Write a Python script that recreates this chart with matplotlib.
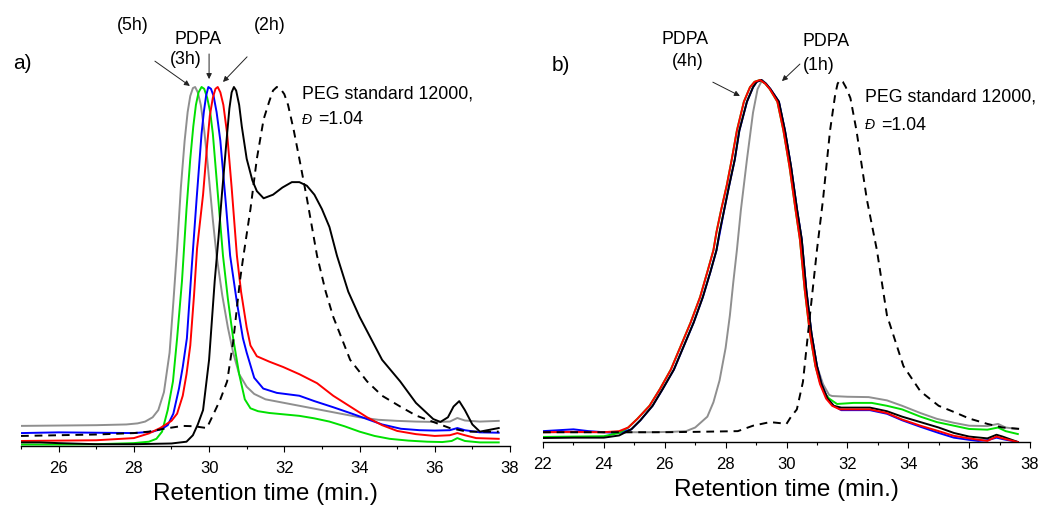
import matplotlib
matplotlib.use("Agg")
import matplotlib.pyplot as plt
from matplotlib.ticker import MultipleLocator

plt.rcParams['font.family'] = ['Liberation Sans', 'DejaVu Sans']

# ---------------- panel a) : PDPA at 5h / 4h / 3h / 2h / 1h + PEG standard
a_gray_x = [25.0, 26.0, 27.0, 27.8, 28.1, 28.3, 28.5, 28.65, 28.8, 28.95, 29.05, 29.15, 29.25, 29.35,
            29.43, 29.5, 29.57, 29.63, 29.7, 29.78, 29.87, 29.95, 30.1, 30.2, 30.35, 30.5, 30.64,
            30.8, 31.0, 31.2, 31.5, 32.0, 32.5, 33.0, 33.5, 34.0, 34.5, 35.0, 35.5, 36.0, 36.4,
            36.6, 36.8, 37.2, 37.7]
a_gray_y = [0.056, 0.057, 0.058, 0.06, 0.063, 0.068, 0.08, 0.1, 0.15, 0.26, 0.4, 0.55, 0.72, 0.85,
            0.93, 0.975, 0.997, 1.0, 0.985, 0.95, 0.88, 0.8, 0.63, 0.53, 0.42, 0.33, 0.26,
            0.2, 0.165, 0.145, 0.13, 0.12, 0.11, 0.1, 0.09, 0.08, 0.073, 0.07, 0.068, 0.067, 0.068,
            0.078, 0.071, 0.068, 0.07]

a_green_x = [25.0, 26.0, 27.0, 28.0, 28.4, 28.6, 28.75, 28.9, 29.04, 29.15, 29.28, 29.4, 29.5, 29.58,
             29.65, 29.72, 29.8, 29.87, 29.95, 30.03, 30.1, 30.25, 30.37, 30.5, 30.64, 30.8, 30.95,
             31.1, 31.3, 31.6, 32.0, 32.4, 32.8, 33.2, 33.6, 34.0, 34.4, 34.8, 35.3, 35.8, 36.2,
             36.45, 36.6, 36.8, 37.2, 37.7]
a_green_y = [0.004, 0.004, 0.005, 0.008, 0.012, 0.02, 0.04, 0.1, 0.18, 0.3, 0.46, 0.66, 0.8, 0.89,
             0.95, 0.985, 1.0, 0.995, 0.97, 0.93, 0.87, 0.68, 0.53, 0.41, 0.3, 0.2, 0.13,
             0.105, 0.097, 0.092, 0.088, 0.084, 0.077, 0.068, 0.055, 0.04, 0.028, 0.02, 0.015, 0.012, 0.011,
             0.014, 0.022, 0.014, 0.01, 0.01]

a_blue_x = [25.0, 26.0, 27.0, 28.0, 28.5, 28.75, 28.9, 29.05, 29.2, 29.3, 29.41, 29.54, 29.67, 29.8,
            29.86, 29.92, 29.98, 30.05, 30.12, 30.2, 30.3, 30.45, 30.56, 30.74, 30.9, 31.0, 31.2,
            31.44, 31.8, 32.4, 32.8, 33.3, 33.8, 34.2, 34.6, 35.1, 35.6, 36.0, 36.4, 36.6, 36.8,
            37.2, 37.7]
a_blue_y = [0.036, 0.038, 0.037, 0.036, 0.04, 0.048, 0.058, 0.09, 0.16, 0.22, 0.3, 0.5, 0.69, 0.87,
            0.93, 0.975, 1.0, 0.995, 0.975, 0.93, 0.85, 0.67, 0.53, 0.4, 0.3, 0.26, 0.19,
            0.16, 0.148, 0.14, 0.125, 0.108, 0.09, 0.075, 0.06, 0.048, 0.044, 0.043, 0.044, 0.05, 0.044,
            0.038, 0.037]

a_red_x = [25.0, 26.0, 27.0, 28.0, 28.4, 28.7, 29.0, 29.15, 29.3, 29.4, 29.5, 29.6, 29.68, 29.84,
           29.95, 30.02, 30.1, 30.17, 30.23, 30.3, 30.38, 30.48, 30.6, 30.74, 30.85, 31.0, 31.1,
           31.27, 31.6, 31.97, 32.4, 32.87, 33.3, 33.75, 34.2, 34.6, 35.0, 35.5, 36.0, 36.4, 36.6,
           36.8, 37.1, 37.7]
a_red_y = [0.014, 0.015, 0.016, 0.022, 0.035, 0.05, 0.07, 0.09, 0.14, 0.2, 0.28, 0.42, 0.55, 0.7,
           0.84, 0.92, 0.97, 0.995, 1.0, 0.985, 0.95, 0.87, 0.72, 0.53, 0.43, 0.33, 0.28,
           0.25, 0.235, 0.22, 0.2, 0.175, 0.14, 0.11, 0.08, 0.058, 0.042, 0.033, 0.028, 0.03, 0.036,
           0.03, 0.022, 0.02]

a_black_x = [25.0, 25.5, 26.0, 27.0, 28.0, 29.0, 29.4, 29.57, 29.7, 29.84, 30.0, 30.15, 30.25, 30.34,
             30.48, 30.54, 30.6, 30.66, 30.72, 30.8, 30.87, 31.0, 31.15, 31.27, 31.45, 31.7, 31.95,
             32.2, 32.4, 32.6, 32.8, 33.0, 33.2, 33.4, 33.7, 34.0, 34.2, 34.6, 35.08, 35.5, 35.96,
             36.15, 36.35, 36.5, 36.65, 36.8, 37.0, 37.2, 37.45, 37.7]
a_black_y = [0.01, 0.01, 0.008, 0.005, 0.005, 0.007, 0.012, 0.03, 0.06, 0.1, 0.24, 0.46, 0.58, 0.7,
             0.87, 0.94, 0.985, 1.0, 0.99, 0.95, 0.89, 0.8, 0.74, 0.71, 0.69, 0.7, 0.72,
             0.735, 0.735, 0.725, 0.7, 0.66, 0.61, 0.53, 0.43, 0.36, 0.32, 0.24, 0.18, 0.12, 0.075,
             0.067, 0.08, 0.11, 0.125, 0.1, 0.06, 0.04, 0.045, 0.05]

a_peg_x = [25.0, 26.0, 27.0, 28.0, 28.4, 28.8, 29.3, 29.6, 29.94, 30.1, 30.3, 30.48, 30.64, 30.82,
           30.9, 31.1, 31.27, 31.45, 31.6, 31.7, 31.8, 31.9, 32.0, 32.1, 32.25, 32.4, 32.6, 32.87,
           33.1, 33.3, 33.75, 34.2, 34.6, 35.08, 35.5, 35.96, 36.4, 36.86, 37.7]
a_peg_y = [0.028, 0.03, 0.032, 0.036, 0.04, 0.048, 0.056, 0.055, 0.05, 0.085, 0.13, 0.18, 0.29, 0.46,
           0.52, 0.66, 0.8, 0.91, 0.96, 0.99, 1.0, 0.995, 0.98, 0.95, 0.88, 0.8, 0.69, 0.53,
           0.43, 0.36, 0.24, 0.18, 0.14, 0.11, 0.085, 0.067, 0.05, 0.04, 0.04]

# ---------------- panel b)
b_red_x = [22.0, 23.0, 24.0, 24.5, 24.8, 25.1, 25.5, 25.84, 26.2, 26.5, 26.85, 27.16, 27.4, 27.6,
           27.7, 27.85, 28.04, 28.2, 28.37, 28.6, 28.8, 28.95, 29.13, 29.3, 29.45, 29.7, 29.9,
           30.1, 30.3, 30.44, 30.6, 30.77, 30.95, 31.1, 31.3, 31.5, 31.76, 32.2, 32.74, 33.3, 33.8,
           34.4, 35.0, 35.5, 36.0, 36.6, 36.9, 37.1, 37.6]
b_red_y = [0.027, 0.028, 0.027, 0.03, 0.04, 0.064, 0.1, 0.146, 0.2, 0.26, 0.33, 0.4, 0.47, 0.53,
           0.58, 0.64, 0.71, 0.78, 0.86, 0.94, 0.98, 0.995, 1.0, 0.99, 0.975, 0.94, 0.86,
           0.76, 0.64, 0.56, 0.42, 0.3, 0.21, 0.16, 0.12, 0.1, 0.09, 0.09, 0.09, 0.08, 0.062,
           0.045, 0.03, 0.017, 0.01, 0.003, 0.015, 0.01, 0.0]

b_black_x = [22.0, 23.0, 24.0, 24.5, 24.9, 25.2, 25.6, 25.93, 26.3, 26.6, 26.95, 27.25, 27.5, 27.7,
             27.8, 27.95, 28.12, 28.3, 28.45, 28.7, 28.9, 29.02, 29.17, 29.32, 29.47, 29.75, 29.95,
             30.15, 30.35, 30.5, 30.65, 30.82, 31.0, 31.15, 31.35, 31.55, 31.8, 32.2, 32.74, 33.3,
             33.8, 34.4, 35.0, 35.5, 36.0, 36.6, 36.9, 37.1, 37.6]
b_black_y = [0.011, 0.012, 0.012, 0.018, 0.035, 0.06, 0.1, 0.146, 0.2, 0.26, 0.33, 0.4, 0.47, 0.53,
             0.58, 0.64, 0.71, 0.78, 0.86, 0.94, 0.98, 0.995, 1.0, 0.99, 0.975, 0.94, 0.86,
             0.76, 0.64, 0.56, 0.42, 0.3, 0.21, 0.16, 0.12, 0.1, 0.095, 0.095, 0.095, 0.085,
             0.07, 0.055, 0.04, 0.025, 0.015, 0.01, 0.02, 0.015, 0.0]

b_blue_x = [22.0, 23.0, 23.5, 24.0, 24.5, 24.9, 25.2, 25.6, 25.93, 26.3, 26.6, 26.95, 27.25, 27.5,
            27.7, 27.95, 28.12, 28.3, 28.45, 28.7, 28.9, 29.02, 29.17, 29.32, 29.47, 29.75, 29.95,
            30.15, 30.35, 30.5, 30.65, 30.82, 31.0, 31.15, 31.35, 31.55, 31.8, 32.2, 32.74, 33.3,
            33.8, 34.4, 35.0, 35.5, 36.0, 36.3, 36.6, 36.9, 37.1, 37.6]
b_blue_y = [0.03, 0.035, 0.03, 0.027, 0.025, 0.035, 0.06, 0.1, 0.146, 0.2, 0.26, 0.33, 0.4, 0.47,
            0.53, 0.64, 0.71, 0.78, 0.86, 0.94, 0.98, 0.995, 1.0, 0.99, 0.975, 0.94, 0.86,
            0.76, 0.64, 0.56, 0.42, 0.3, 0.21, 0.16, 0.12, 0.1, 0.088, 0.088, 0.088, 0.078,
            0.06, 0.042, 0.025, 0.012, 0.006, 0.003, 0.005, 0.012, 0.008, 0.0]

b_green_x = [22.0, 23.0, 24.0, 24.5, 24.8, 25.1, 25.5, 25.84, 26.2, 26.5, 26.85, 27.16, 27.4, 27.6,
             27.7, 27.85, 28.04, 28.2, 28.37, 28.6, 28.8, 28.95, 29.13, 29.3, 29.45, 29.7, 29.9,
             30.1, 30.3, 30.44, 30.6, 30.77, 30.95, 31.1, 31.25, 31.4, 31.66, 32.2, 32.8, 33.3,
             33.8, 34.4, 34.94, 35.5, 36.0, 36.6, 36.95, 37.2, 37.6]
b_green_y = [0.014, 0.015, 0.016, 0.025, 0.04, 0.064, 0.1, 0.146, 0.2, 0.26, 0.33, 0.4, 0.47, 0.53,
             0.58, 0.64, 0.71, 0.78, 0.86, 0.94, 0.98, 0.995, 1.0, 0.99, 0.975, 0.94, 0.86,
             0.76, 0.64, 0.56, 0.42, 0.3, 0.21, 0.165, 0.135, 0.12, 0.105, 0.108, 0.108, 0.1,
             0.09, 0.07, 0.055, 0.045, 0.036, 0.034, 0.04, 0.03, 0.022]

b_gray_x = [22.0, 24.5, 25.5, 26.2, 26.7, 27.0, 27.2, 27.4, 27.6, 27.8, 28.0, 28.14, 28.25, 28.37,
            28.5, 28.7, 28.9, 29.05, 29.2, 29.33, 29.47, 29.75, 29.95, 30.15, 30.35, 30.5, 30.65,
            30.82, 31.0, 31.2, 31.4, 31.5, 32.0, 32.7, 33.3, 33.8, 34.4, 34.94, 35.5, 36.0, 36.6,
            36.95, 37.2, 37.6]
b_gray_y = [0.027, 0.027, 0.027, 0.028, 0.03, 0.04, 0.055, 0.07, 0.11, 0.17, 0.26, 0.35, 0.44, 0.53,
            0.64, 0.78, 0.91, 0.975, 1.0, 0.99, 0.975, 0.94, 0.86, 0.76, 0.64, 0.56, 0.42,
            0.3, 0.21, 0.16, 0.13, 0.127, 0.125, 0.124, 0.115, 0.1, 0.08, 0.064, 0.053, 0.045, 0.044,
            0.05, 0.04, 0.036]

b_peg_x = [22.0, 23.0, 24.5, 26.0, 27.0, 28.4, 28.9, 29.46, 29.8, 30.0, 30.15, 30.34, 30.54, 30.77,
           31.0, 31.2, 31.43, 31.6, 31.68, 31.76, 31.85, 31.95, 32.1, 32.3, 32.64, 32.97, 33.3,
           33.84, 34.4, 35.0, 35.5, 36.0, 36.6, 37.1, 37.7]
b_peg_y = [0.027, 0.027, 0.027, 0.027, 0.028, 0.03, 0.045, 0.055, 0.052, 0.05, 0.07, 0.09, 0.166, 0.35,
           0.53, 0.67, 0.86, 0.96, 0.99, 1.0, 0.995, 0.98, 0.95, 0.86, 0.67, 0.53, 0.35,
           0.21, 0.14, 0.1, 0.083, 0.065, 0.05, 0.04, 0.036]

GRAY, GREEN, BLUE, RED, BLACK = '#8f8f8f', '#00e000', '#0000ff', '#ff0000', '#000000'
LW = 1.4
FS_TXT = 12.8

fig = plt.figure(figsize=(10.45, 5.1), dpi=100)
ax_a = fig.add_axes([21 / 1045, 1 - 447 / 510, (510 - 21) / 1045, 1.16 * 359 / 510])
ax_b = fig.add_axes([543 / 1045, 1 - 443 / 510, (1030 - 543) / 1045, 1.16 * 362 / 510])


def style_axis(ax, xmin, xmax):
    ax.set_xlim(xmin, xmax)
    ax.set_ylim(0, 1.16)
    for s in ['left', 'right', 'top']:
        ax.spines[s].set_visible(False)
    ax.spines['bottom'].set_linewidth(1.0)
    ax.set_yticks([])
    ax.xaxis.set_major_locator(MultipleLocator(2))
    ax.xaxis.set_minor_locator(MultipleLocator(1))
    ax.tick_params(axis='x', which='major', direction='out', length=4, width=0.8,
                   labelsize=12, pad=6)
    ax.tick_params(axis='x', which='minor', direction='out', length=2.5, width=0.8)
    ax.set_xlabel('Retention time (min.)', fontsize=17.5, labelpad=5)
    ax.patch.set_alpha(0)


# panel a
ax_a.plot(a_gray_x, a_gray_y, color=GRAY, lw=LW)
ax_a.plot(a_green_x, a_green_y, color=GREEN, lw=LW)
ax_a.plot(a_blue_x, a_blue_y, color=BLUE, lw=LW)
ax_a.plot(a_red_x, a_red_y, color=RED, lw=LW)
ax_a.plot(a_black_x, a_black_y, color=BLACK, lw=LW)
ax_a.plot(a_peg_x, a_peg_y, color=BLACK, lw=LW, ls=(0, (4, 3)))
style_axis(ax_a, 25, 38)

ax_a.text(24.8, 1.067, 'a)', fontsize=15, ha='left', va='center')
ax_a.text(27.98, 1.173, '(5h)', fontsize=FS_TXT, ha='center', va='center')
ax_a.text(29.71, 1.136, 'PDPA', fontsize=FS_TXT, ha='center', va='center')
ax_a.text(29.39, 1.078, '(3h)', fontsize=FS_TXT, ha='center', va='center')
ax_a.text(31.6, 1.175, '(2h)', fontsize=FS_TXT, ha='center', va='center')
arrow = dict(arrowstyle='-|>', lw=0.7, color='#222222', mutation_scale=8, shrinkA=0, shrinkB=0)
ax_a.annotate('', xy=(29.49, 1.003), xytext=(28.56, 1.072), arrowprops=arrow, annotation_clip=False)
ax_a.annotate('', xy=(30.0, 1.022), xytext=(30.0, 1.092), arrowprops=arrow, annotation_clip=False)
ax_a.annotate('', xy=(30.37, 1.014), xytext=(31.01, 1.084), arrowprops=arrow, annotation_clip=False)
ax_a.text(32.47, 0.983, 'PEG standard 12000,', fontsize=FS_TXT, ha='left', va='center')
ax_a.text(32.47, 0.911, 'Đ', fontsize=10, style='italic', ha='left', va='center')
ax_a.text(32.9, 0.911, '=1.04', fontsize=FS_TXT, ha='left', va='center')

# panel b
ax_b.plot(b_gray_x, b_gray_y, color=GRAY, lw=LW)
ax_b.plot(b_blue_x, b_blue_y, color=BLUE, lw=LW)
ax_b.plot(b_green_x, b_green_y, color=GREEN, lw=LW)
ax_b.plot(b_black_x, b_black_y, color=BLACK, lw=LW)
ax_b.plot(b_red_x, b_red_y, color=RED, lw=LW)
ax_b.plot(b_peg_x, b_peg_y, color=BLACK, lw=LW, ls=(0, (4, 3)))
style_axis(ax_b, 22, 38)

ax_b.text(22.3, 1.044, 'b)', fontsize=15, ha='left', va='center')
ax_b.text(26.66, 1.116, 'PDPA', fontsize=FS_TXT, ha='center', va='center')
ax_b.text(26.76, 1.055, '(4h)', fontsize=FS_TXT, ha='center', va='center')
ax_b.text(31.3, 1.108, 'PDPA', fontsize=FS_TXT, ha='center', va='center')
ax_b.text(31.07, 1.044, '(1h)', fontsize=FS_TXT, ha='center', va='center')
ax_b.annotate('', xy=(28.47, 0.956), xytext=(27.58, 0.994), arrowprops=arrow, annotation_clip=False)
ax_b.annotate('', xy=(29.85, 0.997), xytext=(30.44, 1.044), arrowprops=arrow, annotation_clip=False)
ax_b.text(32.58, 0.956, 'PEG standard 12000,', fontsize=FS_TXT, ha='left', va='center')
ax_b.text(32.58, 0.878, 'Đ', fontsize=10, style='italic', ha='left', va='center')
ax_b.text(33.1, 0.878, '=1.04', fontsize=FS_TXT, ha='left', va='center')

fig.savefig('out.png', dpi=100)
